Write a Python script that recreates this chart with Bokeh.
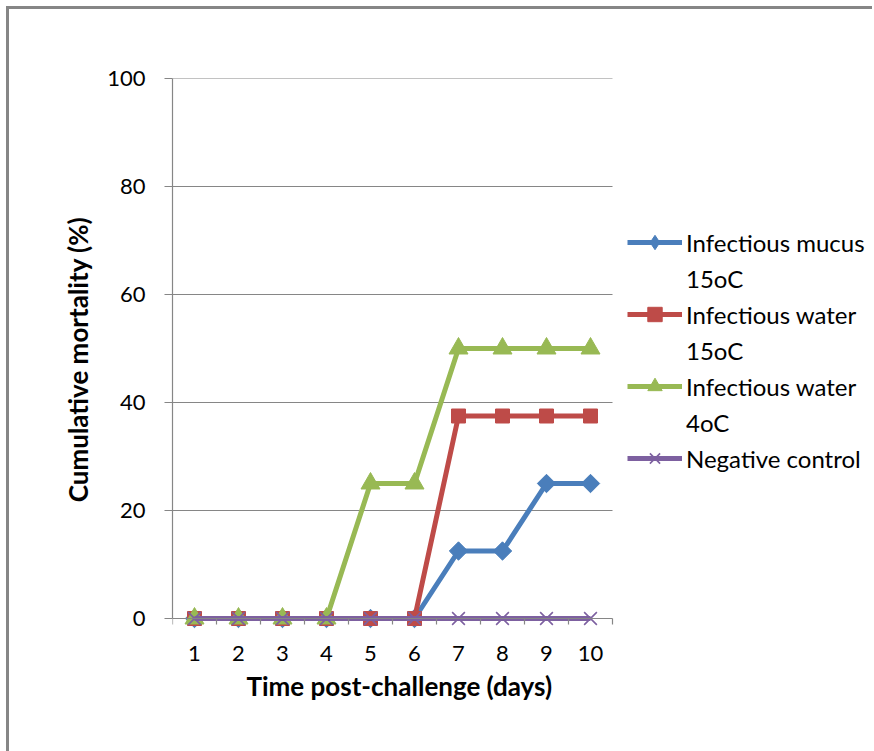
import math
from bokeh.plotting import figure
from bokeh.models import (Range1d, FixedTicker, Legend, LegendItem, ColumnDataSource,
                          LinearAxis, Title)
from bokeh.embed import file_html
from bokeh.resources import INLINE

days = [1, 2, 3, 4, 5, 6, 7, 8, 9, 10]
mucus_15 = [0, 0, 0, 0, 0, 0, 12.5, 12.5, 25, 25]
water_15 = [0, 0, 0, 0, 0, 0, 37.5, 37.5, 37.5, 37.5]
water_4 = [0, 0, 0, 0, 25, 25, 50, 50, 50, 50]
negative = [0, 0, 0, 0, 0, 0, 0, 0, 0, 0]
y_ticks = [0, 20, 40, 60, 80, 100]

FONT = "Lato"
GRAY = "#868686"

# category slots span 0.5..10.5; extra room on the right for the legend and
# a little room below zero so markers at 0 are not clipped
p = figure(frame_width=696, frame_height=562, output_backend="svg", toolbar_location=None,
           x_range=Range1d(0.5, 0.5 + 696 / 44.0), y_range=Range1d(-22 / 5.4, 100),
           min_border_left=163, min_border_right=4, min_border_top=69,
           min_border_bottom=111,
           styles={"margin-left": "6px", "margin-top": "6px",
                   "border-left": "3px solid #868686",
                   "border-top": "3px solid #868686"})
p.outline_line_color = None
p.background_fill_color = "white"
p.border_fill_color = "white"

# x axis labels (category names)
xa = p.xaxis[0]
xa.ticker = FixedTicker(ticks=days, minor_ticks=[])
xa.axis_line_color = None
xa.major_tick_line_color = None
xa.minor_tick_line_color = None
xa.major_tick_out = 0
xa.major_label_text_font = FONT
xa.major_label_text_font_size = "22px"
xa.major_label_text_color = "black"
xa.major_label_standoff = 5

# x axis line at value 0 with tick marks between categories
x_line = LinearAxis(fixed_location=0, bounds=(0.5, 10.5),
                    ticker=FixedTicker(ticks=[], minor_ticks=[d - 0.5 for d in days] + [10.5]),
                    axis_line_color=GRAY, axis_line_width=1.2,
                    minor_tick_in=0, minor_tick_out=6,
                    minor_tick_line_color=GRAY, minor_tick_line_width=1.2,
                    major_tick_line_color=None)
p.add_layout(x_line, "below")

# x axis title, centred under the category area
x_title = Title(text="Time post-challenge (days)", align="left", offset=74,
                text_font=FONT, text_font_style="bold", text_font_size="26px",
                text_color="black", standoff=8)
p.add_layout(x_title, "below")

ya = p.yaxis[0]
ya.bounds = (0, 100)
ya.ticker = FixedTicker(ticks=y_ticks, minor_ticks=[])
ya.major_tick_in = 0
ya.major_tick_out = 8
ya.major_tick_line_color = GRAY
ya.major_tick_line_width = 1.2
ya.axis_line_color = GRAY
ya.axis_line_width = 1.2
ya.major_label_text_font = FONT
ya.major_label_text_font_size = "22px"
ya.major_label_text_color = "black"
ya.major_label_standoff = 19
ya.axis_label = "Cumulative mortality (%)"
ya.axis_label_text_font = FONT
ya.axis_label_text_font_style = "bold"
ya.axis_label_text_font_size = "26px"
ya.axis_label_text_color = "black"
ya.axis_label_standoff = 10

# horizontal gridlines limited to the category area
p.xgrid.grid_line_color = None
p.ygrid.grid_line_color = None
grid_vals = y_ticks[1:]
p.segment(x0=[0.5] * len(grid_vals), x1=[10.5] * len(grid_vals),
          y0=grid_vals, y1=grid_vals, line_color=GRAY, line_width=1.2)

series = [
    ("Infectious mucus", "15oC", mucus_15, "#4A7EBB", "diamond"),
    ("Infectious water", "15oC", water_15, "#BE4B48", "square"),
    ("Infectious water", "4oC", water_4, "#98B954", "triangle"),
    ("Negative control", None, negative, "#7D60A0", "x"),
]

items = []
for name, second, vals, color, marker in series:
    src = ColumnDataSource(dict(x=days, y=vals))
    r_line = p.line("x", "y", source=src, line_color=color, line_width=5)
    if marker == "x":
        r_mark = p.scatter("x", "y", source=src, marker="x", size=18,
                           line_color=color, line_width=1.6)
        leg_mark = r_mark
    elif marker == "diamond":
        r_mark = p.scatter("x", "y", source=src, marker="square", size=13,
                           angle=math.pi / 4, fill_color=color, line_color=color)
        # legend glyphs are drawn unrotated, so show a diamond there
        # (a single point far outside the visible range, never drawn in the plot)
        leg_mark = p.scatter(x=[-1000], y=[-1000], marker="diamond", size=18,
                             fill_color=color, line_color=color)
    elif marker == "square":
        r_mark = p.scatter("x", "y", source=src, marker="square", size=14,
                           fill_color=color, line_color=color)
        leg_mark = r_mark
    else:
        r_mark = p.scatter("x", "y", source=src, marker="triangle", size=19,
                           fill_color=color, line_color=color)
        leg_mark = r_mark
    items.append(LegendItem(label=name, renderers=[r_line, leg_mark]))
    if second is not None:
        dummy = p.line([], [], line_alpha=0)
        items.append(LegendItem(label=second, renderers=[dummy]))

legend = Legend(items=items, location=(455, 164), orientation="vertical")
legend.label_text_font = FONT
legend.label_text_font_size = "24px"
legend.label_text_color = "black"
legend.glyph_width = 55
legend.glyph_height = 36
legend.label_height = 20
legend.label_standoff = 4
legend.spacing = 0
legend.padding = 0
legend.margin = 0
legend.border_line_color = None
legend.background_fill_alpha = 0
p.add_layout(legend)

open("out.html", "w").write(file_html(p, INLINE))
